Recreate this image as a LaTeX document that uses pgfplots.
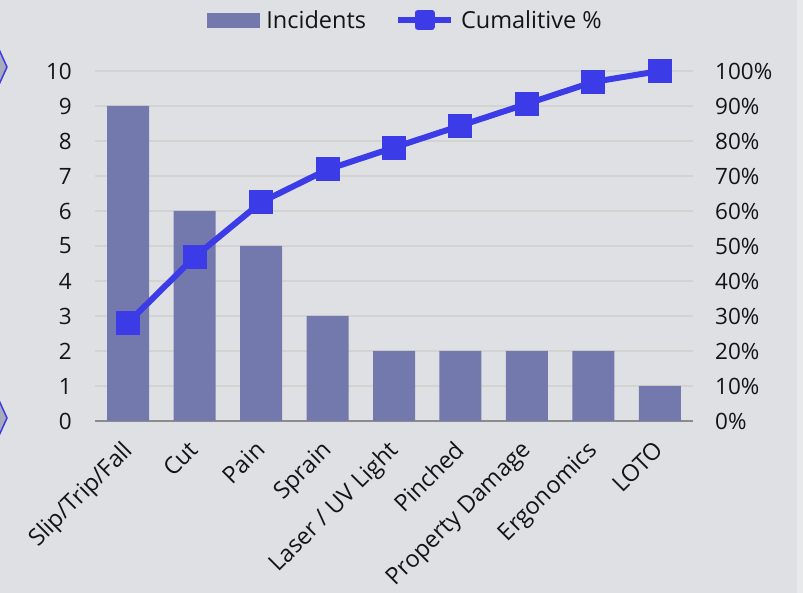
\documentclass[border=0pt]{standalone}
\usepackage{fontspec}
\setmainfont{Open Sans}
\usepackage{pgfplots}
\pgfplotsset{compat=1.18}
\definecolor{bg}{HTML}{DFE0E4}
\definecolor{bgedge}{HTML}{E8E9EB}
\definecolor{barc}{HTML}{7479AD}
\definecolor{linec}{HTML}{3B3BE8}
\definecolor{gridc}{HTML}{D3D4D1}
\definecolor{axisc}{HTML}{8C8C8C}
\definecolor{tabc}{HTML}{A9AABC}
\definecolor{txt}{HTML}{141414}
\newcommand\lblfont{\fontsize{23.5bp}{28bp}\selectfont\color{txt}}
\newcommand\numfont{\fontsize{22.5bp}{27bp}\selectfont\color{txt}}

\begin{document}
\begin{tikzpicture}[x=1bp,y=1bp]
\useasboundingbox (0,0) rectangle (803,593);
\fill[bg] (0,0) rectangle (797,593);
\fill[bgedge] (797,0) rectangle (803,593);
\begin{scope}
  \clip (0,0) rectangle (803,593);
  \filldraw[fill=tabc, draw=linec, line width=1.5bp] (-3,548) -- (7,526) -- (-3,504) -- cycle;
  \filldraw[fill=tabc, draw=linec, line width=1.5bp] (-3,197) -- (7,175) -- (-3,153) -- cycle;
\end{scope}

% incidents per category (left axis)
\begin{axis}[
  at={(95bp,172bp)}, anchor=south west,
  scale only axis, width=598bp, height=350bp,
  ybar, bar width=42bp,
  xmin=-0.5, xmax=8.5, ymin=0, ymax=10,
  axis x line=bottom, axis y line=left,
  x axis line style={draw=axisc, line width=2.5bp, -},
  y axis line style={draw=none},
  major tick length=0pt, tick style={draw=none},
  ymajorgrids, grid style={gridc, line width=1.5bp},
  ytick={0,1,...,10},
  /pgf/number format/assume math mode=true,
  xtick={0,...,8},
  xticklabels={Slip/Trip/Fall, Cut, Pain, Sprain, Laser / UV Light, Pinched, Property Damage, Ergonomics, LOTO},
  yticklabel style={font=\numfont, inner sep=0pt, anchor=east, xshift=-23bp},
  xticklabel style={font=\lblfont, inner sep=0pt, xshift=-7bp, yshift=-18bp, rotate=45, anchor=north east},
]
\addplot[fill=barc, draw=none] coordinates {(0,9) (1,6) (2,5) (3,3) (4,2) (5,2) (6,2) (7,2) (8,1)};
\end{axis}

% cumulative share (right axis)
\begin{axis}[
  at={(95bp,172bp)}, anchor=south west,
  scale only axis, width=598bp, height=350bp,
  xmin=-0.5, xmax=8.5, ymin=0, ymax=100,
  axis x line=none, axis y line*=right,
  y axis line style={draw=none},
  major tick length=0pt, tick style={draw=none},
  ytick={0,10,...,100},
  yticklabels={0\%,10\%,20\%,30\%,40\%,50\%,60\%,70\%,80\%,90\%,100\%},
  yticklabel style={font=\numfont, inner sep=0pt, anchor=west, xshift=22bp},
  clip=false,
  legend columns=2,
  legend style={at={(0.519,1.146)}, anchor=center, draw=none, fill=none,
    font=\lblfont, inner sep=0pt,
    /tikz/every odd column/.append style={column sep=5bp},
    /tikz/every even column/.append style={column sep=27bp}},
  legend cell align=left,
]
\addlegendimage{legend image code/.code={\fill[barc] (0bp,-7bp) rectangle (52bp,7bp);}}
\addlegendentry{Incidents}
\addplot[linec, line width=6bp, line join=round,
  mark=square*, mark size=11.5bp, mark options={line width=0pt, fill=linec, draw=linec},
  legend image code/.code={\draw[linec, line width=6bp] (0bp,0bp) -- (53bp,0bp);
    \fill[linec] (19.5bp,-7bp) rectangle (33.5bp,7bp);}]
  coordinates {(0,28.125) (1,46.875) (2,62.5) (3,71.875) (4,78.125) (5,84.375) (6,90.625) (7,96.875) (8,100)};
\addlegendentry{Cumalitive \%}
\end{axis}
\end{tikzpicture}
\end{document}
